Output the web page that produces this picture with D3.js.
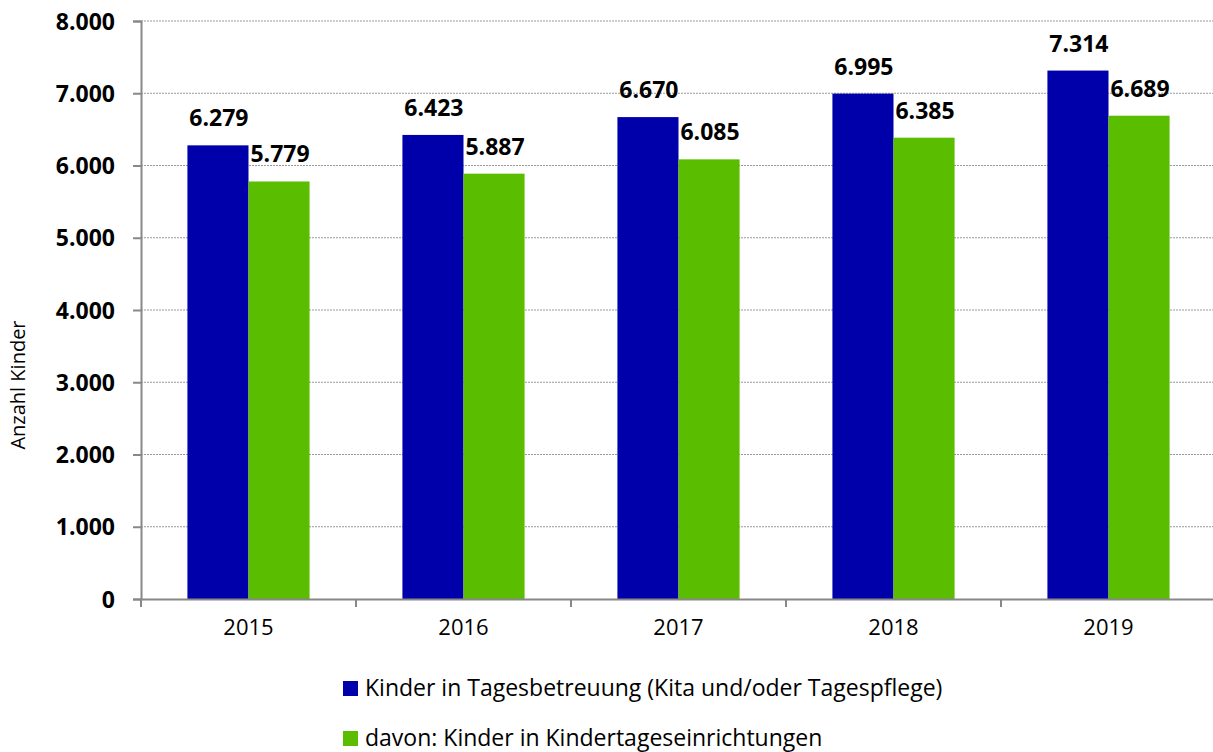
<!doctype html>
<html>
<head>
<meta charset="utf-8">
<script src="https://cdnjs.cloudflare.com/ajax/libs/d3/7.8.5/d3.min.js"></script>
<style>
body { margin: 0; background: #fff; }
text { font-family: "Open Sans", "Liberation Sans", sans-serif; }
</style>
</head>
<body>
<svg id="chart" width="1213" height="752"></svg>
<script>
var years = ["2015", "2016", "2017", "2018", "2019"];
var betreuung = [6279, 6423, 6670, 6995, 7314];
var einrichtungen = [5779, 5887, 6085, 6385, 6689];
var yTicks = [0, 1000, 2000, 3000, 4000, 5000, 6000, 7000, 8000];
var seriesNames = ["Kinder in Tagesbetreuung (Kita und/oder Tagespflege)", "davon: Kinder in Kindertageseinrichtungen"];
var colors = ["#0000aa", "#5bbd00"];

var svg = d3.select("#chart");
var plotL = 141, plotR = 1216, plotT = 21, plotB = 599;

var fmt = function(v) { return d3.format(",")(v).replace(/,/g, "."); };

var x = d3.scaleBand().domain(years).range([plotL, plotR]).paddingInner(0).paddingOuter(0);
var inner = d3.scaleBand().domain([0, 1]).range([0, x.bandwidth()]).paddingOuter(0.76).paddingInner(0);
var y = d3.scaleLinear().domain([0, 8000]).range([plotB, plotT]);

// gridlines
svg.append("g").selectAll("line")
  .data(yTicks.filter(d => d > 0))
  .enter().append("line")
  .attr("x1", plotL).attr("x2", 1213)
  .attr("y1", d => y(d)).attr("y2", d => y(d))
  .attr("stroke", "#999").attr("stroke-dasharray", "2,1").attr("stroke-width", 1);

var series = [betreuung, einrichtungen];
series.forEach(function(vals, s) {
  svg.append("g").selectAll("rect")
    .data(vals)
    .enter().append("rect")
    .attr("x", (d, i) => x(years[i]) + inner(s))
    .attr("width", inner.bandwidth())
    .attr("y", d => y(d))
    .attr("height", d => plotB - y(d))
    .attr("fill", colors[s]);
  svg.append("g").selectAll("text")
    .data(vals)
    .enter().append("text")
    .attr("x", (d, i) => x(years[i]) + inner(s) + inner.bandwidth() / 2 + 1)
    .attr("y", d => y(d) - 19)
    .attr("text-anchor", "middle")
    .style("font-size", "23px").style("font-weight", "bold")
    .text(d => fmt(d));
});

// y axis
var yAxis = svg.append("g").attr("transform", "translate(" + plotL + ",0)")
  .call(d3.axisLeft(y).tickValues(yTicks).tickSize(8).tickPadding(18).tickFormat(fmt));
yAxis.select(".domain").attr("stroke", "#888").attr("stroke-width", 2);
yAxis.selectAll(".tick line").attr("stroke", "#888").attr("stroke-width", 2);
yAxis.selectAll(".tick text").style("font-size", "23px").style("font-weight", "bold")
  .attr("fill", "#000").attr("dy", "0.35em");

// x axis
var xAxis = svg.append("g").attr("transform", "translate(0," + plotB + ")")
  .call(d3.axisBottom(x).tickSize(0).tickPadding(20));
xAxis.select(".domain").attr("stroke", "#888").attr("stroke-width", 2);
xAxis.selectAll(".tick text").style("font-size", "22px").attr("fill", "#000");
svg.append("g").selectAll("line")
  .data(years.concat(["end"]))
  .enter().append("line")
  .attr("x1", (d, i) => plotL + i * x.bandwidth()).attr("x2", (d, i) => plotL + i * x.bandwidth())
  .attr("y1", plotB).attr("y2", plotB + 8)
  .attr("stroke", "#888").attr("stroke-width", 2);

// y title
svg.append("text")
  .attr("transform", "translate(25,385) rotate(-90)")
  .attr("text-anchor", "middle")
  .style("font-size", "20px")
  .text("Anzahl Kinder");

// legend
var legend = svg.append("g").selectAll("g")
  .data(seriesNames)
  .enter().append("g")
  .attr("transform", (d, i) => "translate(343," + (681 + i * 50) + ")");
legend.append("rect").attr("width", 15).attr("height", 15).attr("fill", (d, i) => colors[i]);
legend.append("text").attr("x", 22).attr("y", 15)
  .style("font-size", "23px").text(d => d);
</script>
</body>
</html>
